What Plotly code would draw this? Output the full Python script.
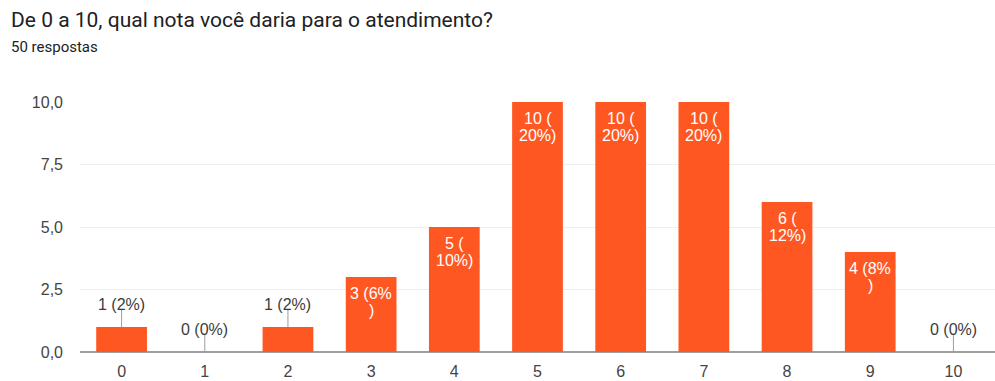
import plotly.graph_objects as go

categories = ["0", "1", "2", "3", "4", "5", "6", "7", "8", "9", "10"]
counts = [1, 0, 1, 3, 5, 10, 10, 10, 6, 4, 0]
total = 50
y_ticks = [0, 2.5, 5, 7.5, 10]

title = "De 0 a 10, qual nota você daria para o atendimento?"
subtitle = "50 respostas"

BAR = "#ff5722"
INSIDE_MIN = 2  # values >= this get the label inside the bar
W, H = 995, 381
ML, MR, MT, MB = 80, 0, 102, 29
PW, PH = W - ML - MR, H - MT - MB
LABEL_FONT = dict(family="Liberation Sans, Arial", size=16)

fig = go.Figure()
fig.add_trace(go.Bar(
    x=categories, y=counts, marker_color=BAR, marker_line_width=0,
    width=0.61, hoverinfo="skip",
))

annotations = []
shapes = []
for c, v in zip(categories, counts):
    pct = round(v * 100 / total)
    if v >= INSIDE_MIN:
        if pct >= 10:
            lines = [f"{v} (", f"{pct}%)"]
        else:
            lines = [f"{v} ({pct}%", ")"]
        for i, ln in enumerate(lines):
            annotations.append(dict(
                x=c, y=v, xref="x", yref="y", text=ln, showarrow=False,
                yanchor="middle", yshift=-(16 + 17 * i), align="center",
                font=dict(**LABEL_FONT, color="white"),
            ))
    else:
        annotations.append(dict(
            x=c, y=v, xref="x", yref="y", text=f"{v} ({pct}%)", showarrow=False,
            yanchor="middle", yshift=23,
            font=dict(**LABEL_FONT, color="#3c3c3c"),
        ))
        shapes.append(dict(
            type="line", xref="x", yref="y", x0=c, x1=c,
            ysizemode="pixel", yanchor=v, y0=0, y1=18,
            line=dict(color="#9e9e9e", width=1),
        ))

def px_x(px):
    return (px - ML) / PW

def px_y(py):
    return (H - MB - py) / PH

annotations.append(dict(
    x=px_x(9), y=px_y(20), xref="paper", yref="paper",
    xanchor="left", yanchor="middle", text=title, showarrow=False,
    font=dict(family="Roboto, Arial", size=21, color="#202124"),
))
annotations.append(dict(
    x=px_x(9), y=px_y(47), xref="paper", yref="paper",
    xanchor="left", yanchor="middle", text=subtitle, showarrow=False,
    font=dict(family="Roboto, Arial", size=15, color="#202124"),
))

fig.update_layout(
    width=W, height=H,
    margin=dict(l=ML, r=MR, t=MT, b=MB),
    paper_bgcolor="white", plot_bgcolor="white",
    separators=",.",
    showlegend=False,
    annotations=annotations,
    shapes=shapes,
)
fig.update_xaxes(
    type="category", showgrid=False, ticks="", showline=False,
    tickfont=dict(family="Liberation Sans, Arial", size=16, color="#444444"),
    range=[-0.5, 10.5], ticklabelstandoff=8,
)
fig.update_yaxes(
    range=[0, 10], tickvals=y_ticks, tickformat=".1f",
    showgrid=True, gridcolor="#efefef", gridwidth=1,
    zeroline=True, zerolinecolor="#9e9e9e", zerolinewidth=2,
    tickfont=dict(family="Liberation Sans, Arial", size=16, color="#444444"),
    ticks="", ticklabelstandoff=16,
)
fig.write_html("out.html")
